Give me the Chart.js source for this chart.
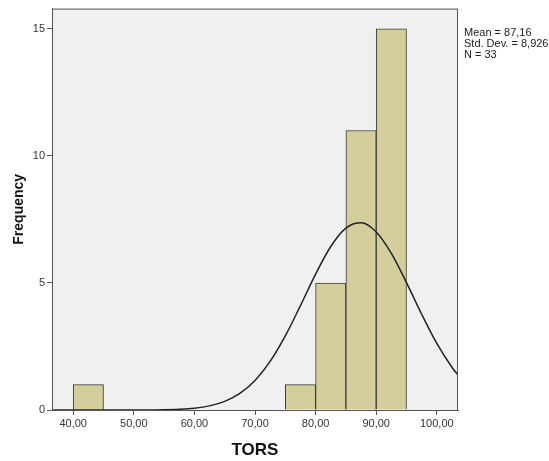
<!DOCTYPE html>
<html>
<head>
<meta charset="utf-8">
<script src="https://cdn.jsdelivr.net/npm/chart.js@4"></script>
<style>
  html, body { margin: 0; padding: 0; background: #fff; }
  #wrap { position: relative; width: 549px; height: 461px; }
  #stats {
    position: absolute; left: 464px; top: 27px;
    font: 11px "Liberation Sans", Arial, sans-serif; color: #222; line-height: 11px;
  }
</style>
</head>
<body>
<div id="wrap">
  <canvas id="histChart" width="549" height="461"></canvas>
  <div id="stats">Mean = 87,16<br>Std. Dev. = 8,926<br>N = 33</div>
</div>
<script>
// ── DATA ─────────────────────────────
const binCenters = [42.5, 77.5, 82.5, 87.5, 92.5];
const binCounts = [1, 1, 5, 11, 15];

// normal curve, read along the x axis
const curveX = [36.5, 45, 50, 52.5, 55, 57.5, 60, 62.5, 65, 67.5, 70, 72.5, 75, 77.5, 80, 82.5, 85, 87.5, 90, 92.5, 95, 97.5, 100, 102.5, 103.5];
const curveY = [0, 0.0001, 0.0013, 0.004, 0.011, 0.03, 0.072, 0.162, 0.338, 0.652, 1.162, 1.914, 2.915, 4.106, 5.345, 6.435, 7.161, 7.369, 7.01, 6.165, 5.014, 3.77, 2.62, 1.684, 1.38];

const xTicks = [40, 50, 60, 70, 80, 90, 100];
const xTickLabels = ["40,00", "50,00", "60,00", "70,00", "80,00", "90,00", "100,00"];
const yTicks = [0, 5, 10, 15];

// ── HELPERS ─────────────────────────────
const frameBox = {
  id: "frameBox",
  beforeDraw(chart) {
    const { ctx, chartArea: a } = chart;
    ctx.save();
    ctx.fillStyle = "#f0f0f0";
    ctx.fillRect(a.left, a.top, a.right - a.left, a.bottom - a.top);
    ctx.restore();
  },
  afterDraw(chart) {
    const { ctx, chartArea: a } = chart;
    ctx.save();
    ctx.strokeStyle = "#555";
    ctx.lineWidth = 1;
    ctx.strokeRect(a.left + 0.5, a.top + 0.5, a.right - a.left - 1, a.bottom - a.top);
    ctx.restore();
  }
};

const tickFont = { family: "'Liberation Sans', Arial, sans-serif", size: 11 };

new Chart(document.getElementById("histChart").getContext("2d"), {
  data: {
    datasets: [
      {
        type: "line",
        data: curveX.map((x, i) => ({ x: x, y: curveY[i] })),
        borderColor: "#222",
        borderWidth: 1.5,
        pointRadius: 0,
        cubicInterpolationMode: "monotone",
        fill: false,
        order: 0
      },
      {
        type: "bar",
        data: binCenters.map((x, i) => ({ x: x, y: binCounts[i] })),
        backgroundColor: "#d3ce9b",
        borderColor: "#3b3a2c",
        borderWidth: 1,
        barPercentage: 1,
        categoryPercentage: 1,
        order: 1
      }
    ]
  },
  options: {
    responsive: false,
    animation: false,
    layout: { padding: { left: 3, top: 7, right: 91, bottom: 0 } },
    plugins: { legend: { display: false }, tooltip: { enabled: false } },
    scales: {
      x: {
        type: "linear",
        offset: false,
        min: 36.5,
        max: 103.5,
        afterBuildTicks: s => { s.ticks = xTicks.map(v => ({ value: v })); },
        afterFit: s => { s.height = 51; },
        ticks: {
          font: tickFont,
          color: "#333",
          padding: 2,
          callback: v => xTickLabels[xTicks.indexOf(v)]
        },
        grid: { offset: false, drawOnChartArea: false, tickLength: 5, color: "#555" },
        border: { color: "#555" },
        title: {
          display: true,
          text: "TORS",
          font: { family: "'Liberation Sans', Arial, sans-serif", size: 17, weight: "bold" },
          color: "#111",
          padding: { top: 4, bottom: 0 }
        }
      },
      y: {
        type: "linear",
        min: 0,
        max: 15.8,
        afterBuildTicks: s => { s.ticks = yTicks.map(v => ({ value: v })); },
        afterFit: s => { s.width = 49; },
        ticks: { font: tickFont, color: "#333", padding: 2 },
        grid: { drawOnChartArea: false, tickLength: 5, color: "#555" },
        border: { color: "#555" },
        title: {
          display: true,
          text: "Frequency",
          font: { family: "'Liberation Sans', Arial, sans-serif", size: 14, weight: "bold" },
          color: "#111",
          padding: { top: 8, bottom: 0 }
        }
      }
    }
  },
  plugins: [frameBox]
});
</script>
</body>
</html>
